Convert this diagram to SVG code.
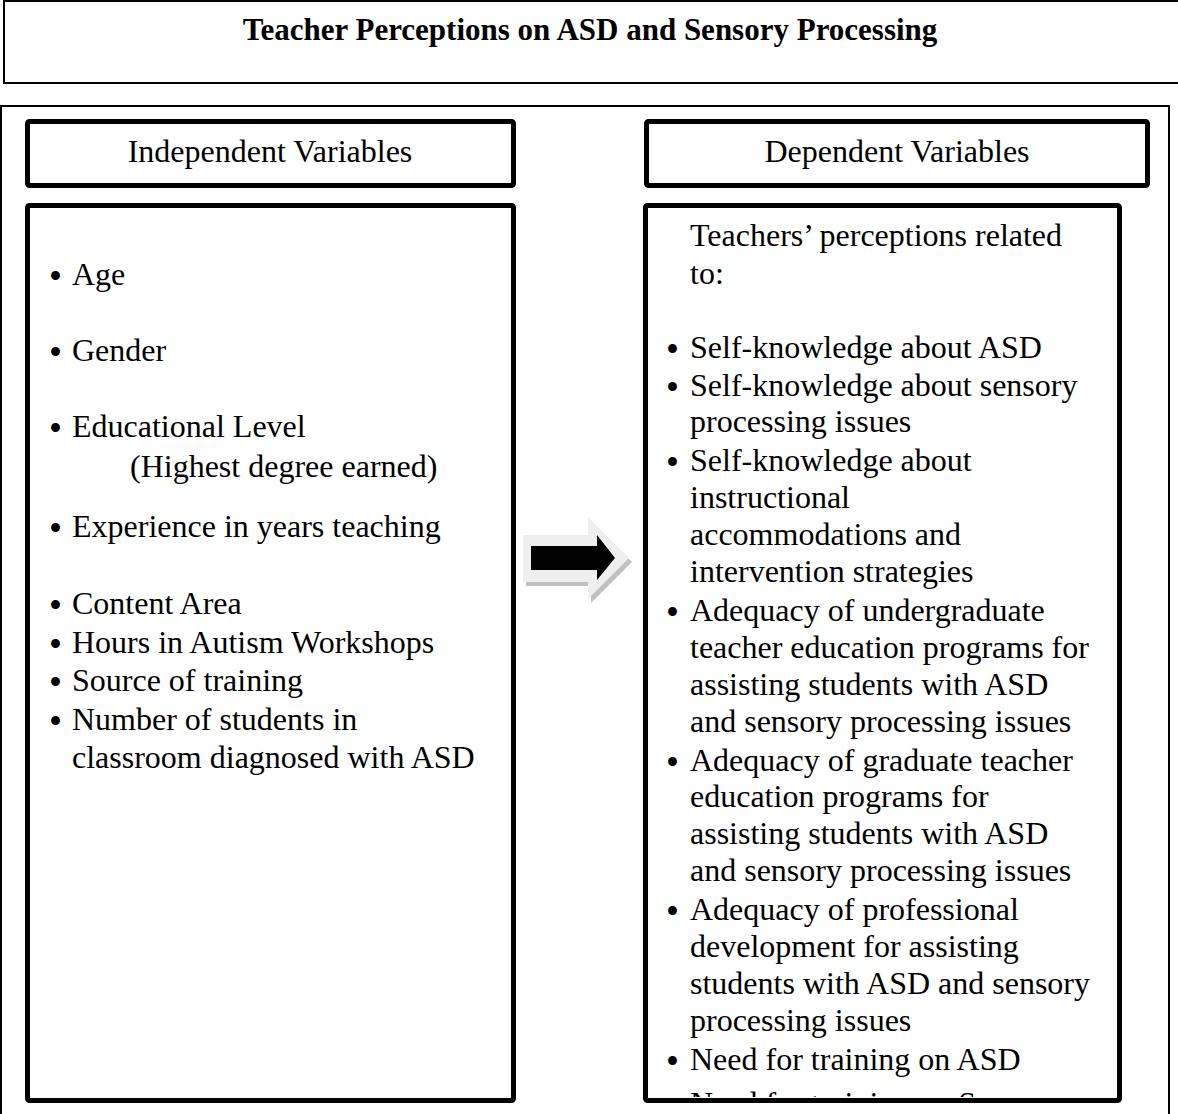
<svg xmlns="http://www.w3.org/2000/svg" width="1178" height="1114" viewBox="0 0 1178 1114">
<style>
.frame{fill:none;stroke:#000;stroke-width:2}
.box{fill:#fff;stroke:#000;stroke-width:5}
.t{font-family:"Liberation Serif","Times New Roman",serif;font-size:32px;fill:#000}
.b{font-family:"Liberation Serif","Times New Roman",serif;font-size:37px;fill:#000}
.title{font-family:"Liberation Serif","Times New Roman",serif;font-size:31px;font-weight:bold;fill:#000}
.c{text-anchor:middle}
</style>
<defs>
<clipPath id="rclip"><rect x="645" y="206" width="473" height="891"/></clipPath>
</defs>
<rect width="1178" height="1114" fill="#fff"/>
<g id="title">
<rect class="frame" x="4" y="1" width="1200" height="82"/>
<text class="title c" x="590" y="40">Teacher Perceptions on ASD and Sensory Processing</text>
</g>
<g id="outer">
<rect class="frame" x="1" y="106" width="1168" height="1100"/>
</g>
<g id="iv-header">
<rect class="box" x="27.5" y="121.5" width="486" height="64" rx="2"/>
<text class="t c" x="270" y="162">Independent Variables</text>
</g>
<g id="dv-header">
<rect class="box" x="646.5" y="121.5" width="501" height="64" rx="2"/>
<text class="t c" x="897" y="162">Dependent Variables</text>
</g>
<g id="iv-list">
<rect class="box" x="27.5" y="205.5" width="486" height="895" rx="2"/>
<g class="b">
<text x="49" y="289">•</text>
<text x="49" y="365">•</text>
<text x="49" y="441">•</text>
<text x="49" y="541">•</text>
<text x="49" y="618">•</text>
<text x="49" y="657">•</text>
<text x="49" y="695">•</text>
<text x="49" y="734">•</text>
</g>
<g class="t">
<text x="72" y="285">Age</text>
<text x="72" y="361">Gender</text>
<text x="72" y="437">Educational Level</text>
<text x="130" y="477">(Highest degree earned)</text>
<text x="72" y="537">Experience in years teaching</text>
<text x="72" y="614">Content Area</text>
<text x="72" y="653">Hours in Autism Workshops</text>
<text x="72" y="691">Source of training</text>
<text x="72" y="730">Number of students in</text>
<text x="72" y="768">classroom diagnosed with ASD</text>
</g>
</g>
<g id="dv-list">
<rect class="box" x="645.5" y="205.5" width="474" height="895" rx="2"/>
<g clip-path="url(#rclip)">
<g class="b">
<text x="666" y="362">•</text>
<text x="666" y="400">•</text>
<text x="666" y="475">•</text>
<text x="666" y="625">•</text>
<text x="666" y="775">•</text>
<text x="666" y="924">•</text>
<text x="666" y="1074">•</text>
<text x="666" y="1118">•</text>
</g>
<g class="t">
<text x="690" y="246">Teachers’ perceptions related</text>
<text x="690" y="284">to:</text>
<text x="690" y="358">Self-knowledge about ASD</text>
<text x="690" y="396">Self-knowledge about sensory</text>
<text x="690" y="432">processing issues</text>
<text x="690" y="471">Self-knowledge about</text>
<text x="690" y="508">instructional</text>
<text x="690" y="545">accommodations and</text>
<text x="690" y="582">intervention strategies</text>
<text x="690" y="621">Adequacy of undergraduate</text>
<text x="690" y="658">teacher education programs for</text>
<text x="690" y="695">assisting students with ASD</text>
<text x="690" y="732">and sensory processing issues</text>
<text x="690" y="771">Adequacy of graduate teacher</text>
<text x="690" y="807">education programs for</text>
<text x="690" y="844">assisting students with ASD</text>
<text x="690" y="881">and sensory processing issues</text>
<text x="690" y="920">Adequacy of professional</text>
<text x="690" y="957">development for assisting</text>
<text x="690" y="994">students with ASD and sensory</text>
<text x="690" y="1031">processing issues</text>
<text x="690" y="1070">Need for training on ASD</text>
<text x="690" y="1114">Need for training on Sensory</text>
</g>
</g>
</g>
<g id="connectors">
<polygon points="526,539 591,539 591,521 632,562 591,603 591,586 526,586" fill="#c0c0c0"/>
<polygon points="523,535 588,535 588,517 629,558 588,599 588,582 523,582" fill="#efefef"/>
<polygon points="531,546 597,546 597,535 615,558 597,580 597,570 531,570" fill="#000"/>
</g>
</svg>
